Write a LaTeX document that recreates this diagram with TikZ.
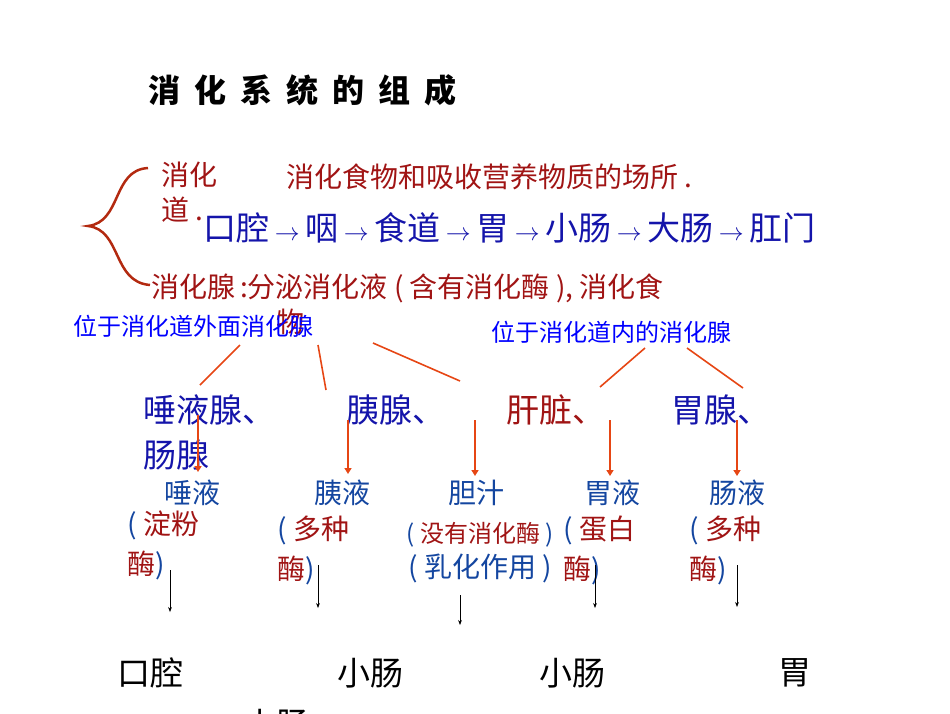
\documentclass[tikz,border=0pt]{standalone}
\usepackage{fontspec}
\setmainfont{Liberation Sans}
\newfontfamily\cjk{Noto Sans CJK SC}
\usetikzlibrary{arrows.meta}
\definecolor{darkred}{RGB}{160,20,20}
\definecolor{chainblue}{RGB}{20,20,170}
\definecolor{midblue}{RGB}{20,70,160}
\definecolor{lineorange}{RGB}{230,70,20}
\newcommand{\chainarrow}{\hbox to 36pt{\hss\fontsize{26}{26}\selectfont$\rightarrow$\hss}}
\newcommand{\tgap}{\hspace{14pt}}
\tikzset{
  big/.style={font=\cjk\fontsize{33}{36}\selectfont},
  mid/.style={font=\cjk\fontsize{28}{40}\selectfont},
  small/.style={font=\cjk\fontsize{24}{26}\selectfont},
  branch/.style={lineorange, line width=1.6pt},
  down/.style={lineorange, line width=2.2pt, -{Triangle[length=6pt,width=7pt]}},
  thin/.style={black, line width=0.6pt, -{Stealth[length=5pt]}}
}
\begin{document}
\begin{tikzpicture}[x=1pt,y=-1pt]
\useasboundingbox (0,0) rectangle (950,713);
% title
\node[anchor=west, font=\cjk\bfseries\fontsize{32}{34}\selectfont] (title) at (145,90) {消\tgap 化\tgap 系\tgap 统\tgap 的\tgap 组\tgap 成};
% brace
\draw[darkred!80!orange, line width=2.5pt] (148,168) .. controls (112,170) and (122,222) .. (88,226)
  .. controls (122,230) and (112,282) .. (150,285);
\node[mid, darkred, anchor=west] (tract) at (158,175) {消化};
\node[mid, darkred, anchor=west] (tract2) at (158,210) {道 .};
\node[mid, darkred, anchor=west] (tractdef) at (283,177) {消化食物和吸收营养物质的场所 .};
\node[big, chainblue, anchor=west, inner sep=0pt] (chain) at (203,228) {口腔\chainarrow 咽\chainarrow 食道\chainarrow 胃\chainarrow 小肠\chainarrow 大肠\chainarrow 肛门};
\node[mid, darkred, anchor=west] (gland) at (148,288) {消化腺\,:分泌消化液 ( 含有消化酶 ), 消化食};
\node[mid, darkred] (gland2) at (290,322) {物};
\node[small, blue, anchor=west] (outer) at (70,326) {位于消化道外面消化腺};
\node[small, blue, anchor=west] (inner) at (488,332) {位于消化道内的消化腺};
% glands
\node[big, chainblue, anchor=west] (saliva) at (140,410) {唾液腺、};
\node[big, chainblue, anchor=west] (pancreas) at (343,410) {胰腺、};
\node[big, darkred, anchor=west] (liver) at (503,410) {肝脏、};
\node[big, chainblue, anchor=west] (gastric) at (668,410) {胃腺、};
\node[big, chainblue, anchor=west] (intest) at (140,455) {肠腺};
\coordinate (o1) at (240,345); \coordinate (o2) at (318,345); \coordinate (o3) at (373,343);
\coordinate (i1) at (645,348); \coordinate (i2) at (687,348);
\coordinate (g1) at (200,385); \coordinate (g2) at (326,390); \coordinate (g3) at (460,381);
\coordinate (g4) at (600,387); \coordinate (g5) at (743,388);
\draw[branch] (o1) -- (g1);
\draw[branch] (o2) -- (g2);
\draw[branch] (o3) -- (g3);
\draw[branch] (i1) -- (g4);
\draw[branch] (i2) -- (g5);
% juices
\node[mid, midblue] (j1) at (192,493) {唾液};
\node[mid, midblue] (j2) at (342,493) {胰液};
\node[mid, midblue] (j3) at (476,493) {胆汁};
\node[mid, midblue] (j4) at (612,493) {胃液};
\node[mid, midblue] (j5) at (737,493) {肠液};
\coordinate (a1) at (198,415); \coordinate (a2) at (348,420); \coordinate (a3) at (475,420);
\coordinate (a4) at (610,420); \coordinate (a5) at (737,420);
\draw[down] (a1) -- (198,472);
\draw[down] (a2) -- (348,474);
\draw[down] (a3) -- (475,476);
\draw[down] (a4) -- (610,476);
\draw[down] (a5) -- (737,476);
% enzymes
\node[mid, darkred, anchor=west, align=left] (e1) at (124,545) {{\color{midblue}(} 淀粉\\酶{\color{midblue})}};
\node[mid, darkred, anchor=west, align=left] (e2) at (274,550) {{\color{midblue}(} 多种\\酶{\color{midblue})}};
\node[small, darkred, anchor=west] (e3) at (403,535) {{\color{midblue}(} 没有消化酶 {\color{midblue})}};
\node[mid, midblue, anchor=west] (e3b) at (405,568) {( 乳化作用 )};
\node[mid, darkred, anchor=west, align=left] (e4) at (560,550) {{\color{midblue}(} 蛋白\\酶{\color{midblue})}};
\node[mid, darkred, anchor=west, align=left] (e5) at (686,550) {{\color{midblue}(} 多种\\酶{\color{midblue})}};
% places
\node[big, black] (p1) at (150,673) {口腔};
\node[big, black] (p2) at (370,673) {小肠};
\node[big, black] (p3) at (572,673) {小肠};
\node[big, black] (p4) at (795,673) {胃};
\node[big, black] (p5) at (276,724) {小肠};
\draw[thin] (170,570) -- (170,612);
\draw[thin] (318,565) -- (318,608);
\draw[thin] (460,595) -- (460,625);
\draw[thin] (595,565) -- (595,608);
\draw[thin] (737,565) -- (737,607);
\end{tikzpicture}
\end{document}
